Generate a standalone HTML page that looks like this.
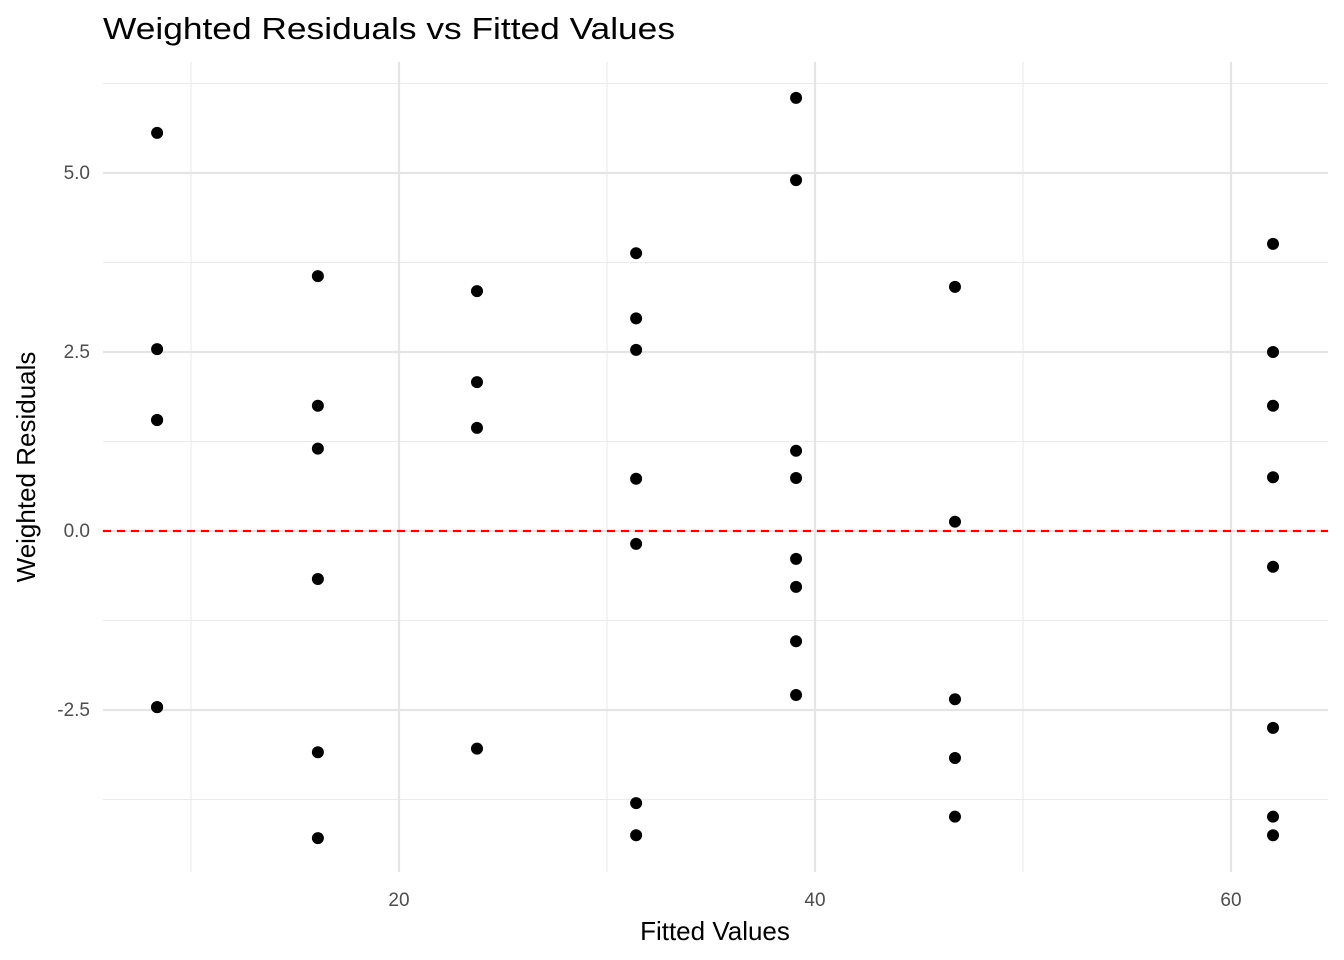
<!DOCTYPE html>
<html><head><meta charset="utf-8"><style>html,body{margin:0;padding:0;background:#fff}svg{display:block;font-family:"Liberation Sans",sans-serif}</style></head>
<body>
<svg id="chart" width="1344" height="960" viewBox="0 0 1344 960" xmlns="http://www.w3.org/2000/svg">
<text x="103" y="39" font-size="31" fill="#000" textLength="572" lengthAdjust="spacingAndGlyphs">Weighted Residuals vs Fitted Values</text>
<g id="grid"></g>
<g id="refline"></g>
<g id="points"></g>
<g id="ticks"></g>
<text x="715" y="940" font-size="26" text-anchor="middle" fill="#000">Fitted Values</text>
<text transform="translate(35,467) rotate(-90)" font-size="26" text-anchor="middle" fill="#000">Weighted Residuals</text>
</svg>
<script>
const xTicks = [20, 40, 60];
const xMinor = [10, 30, 50];
const yTicks = [5.0, 2.5, 0, -2.5];
const yTickLabels = ["5.0", "2.5", "0.0", "-2.5"];
const yMinor = [6.25, 3.75, 1.25, -1.25, -3.75];
const fitted = [8.37,8.37,8.37,8.37,8.37,8.37,
 16.1,16.1,16.1,16.1,16.1,16.1,
 23.75,23.75,23.75,23.75,
 31.4,31.4,31.4,31.4,31.4,31.4,31.4,
 39.09,39.09,39.09,39.09,39.09,39.09,39.09,39.09,
 46.73,46.73,46.73,46.73,46.73,
 62.02,62.02,62.02,62.02,62.02,62.02,62.02,62.02];
const residuals = [5.56,2.54,1.55,1.55,-2.46,-2.46,
 3.56,1.75,1.15,-0.67,-3.09,-4.29,
 3.35,2.08,1.44,-3.04,
 3.88,2.97,2.53,0.73,-0.18,-3.80,-4.25,
 6.05,4.90,1.12,0.74,-0.39,-0.78,-1.54,-2.29,
 3.41,0.13,-2.35,-3.17,-3.99,
 4.01,2.50,1.75,0.75,-0.50,-2.75,-3.99,-4.25];
const NS='http://www.w3.org/2000/svg';
const L=103,R=1328,T=62,B=872;
const xs=v=>-17+20.8*v;
const ys=v=>531-71.6*v;
function mk(tag,attrs,parent){const e=document.createElementNS(NS,tag);for(const k in attrs)e.setAttribute(k,attrs[k]);parent.appendChild(e);return e;}
const grid=document.getElementById('grid');
xMinor.forEach(v=>{const e=mk('line',{x1:xs(v),x2:xs(v),y1:T,y2:B,stroke:'#ebebeb','stroke-width':1.1},grid);

});
yMinor.forEach(v=>{const e=mk('line',{x1:L,x2:R,y1:ys(v),y2:ys(v),stroke:'#ebebeb','stroke-width':1.1},grid);

});
xTicks.forEach(v=>{const e=mk('line',{x1:xs(v),x2:xs(v),y1:T,y2:B,stroke:'#e5e5e5','stroke-width':2.2},grid);

});
yTicks.forEach(v=>{const e=mk('line',{x1:L,x2:R,y1:ys(v),y2:ys(v),stroke:'#e5e5e5','stroke-width':2.2},grid);

});
const rl=mk('line',{x1:L,x2:R,y1:ys(0),y2:ys(0),stroke:'#ff0000','stroke-width':2.2,'stroke-dasharray':'8,6'},document.getElementById('refline'));


const pts=document.getElementById('points');
fitted.forEach((f,i)=>{const c=mk('circle',{cx:xs(f),cy:ys(residuals[i]),r:6,fill:'#000'},pts);

});
const tk=document.getElementById('ticks');
xTicks.forEach(v=>{const t=mk('text',{x:xs(v),y:906,'font-size':19,'text-anchor':'middle',fill:'#4d4d4d'},tk);t.textContent=String(v);

});
yTicks.forEach((v,i)=>{const t=mk('text',{x:90,y:ys(v)+6,'font-size':19,'text-anchor':'end',fill:'#4d4d4d'},tk);t.textContent=yTickLabels[i];

});
</script>
</body></html>
